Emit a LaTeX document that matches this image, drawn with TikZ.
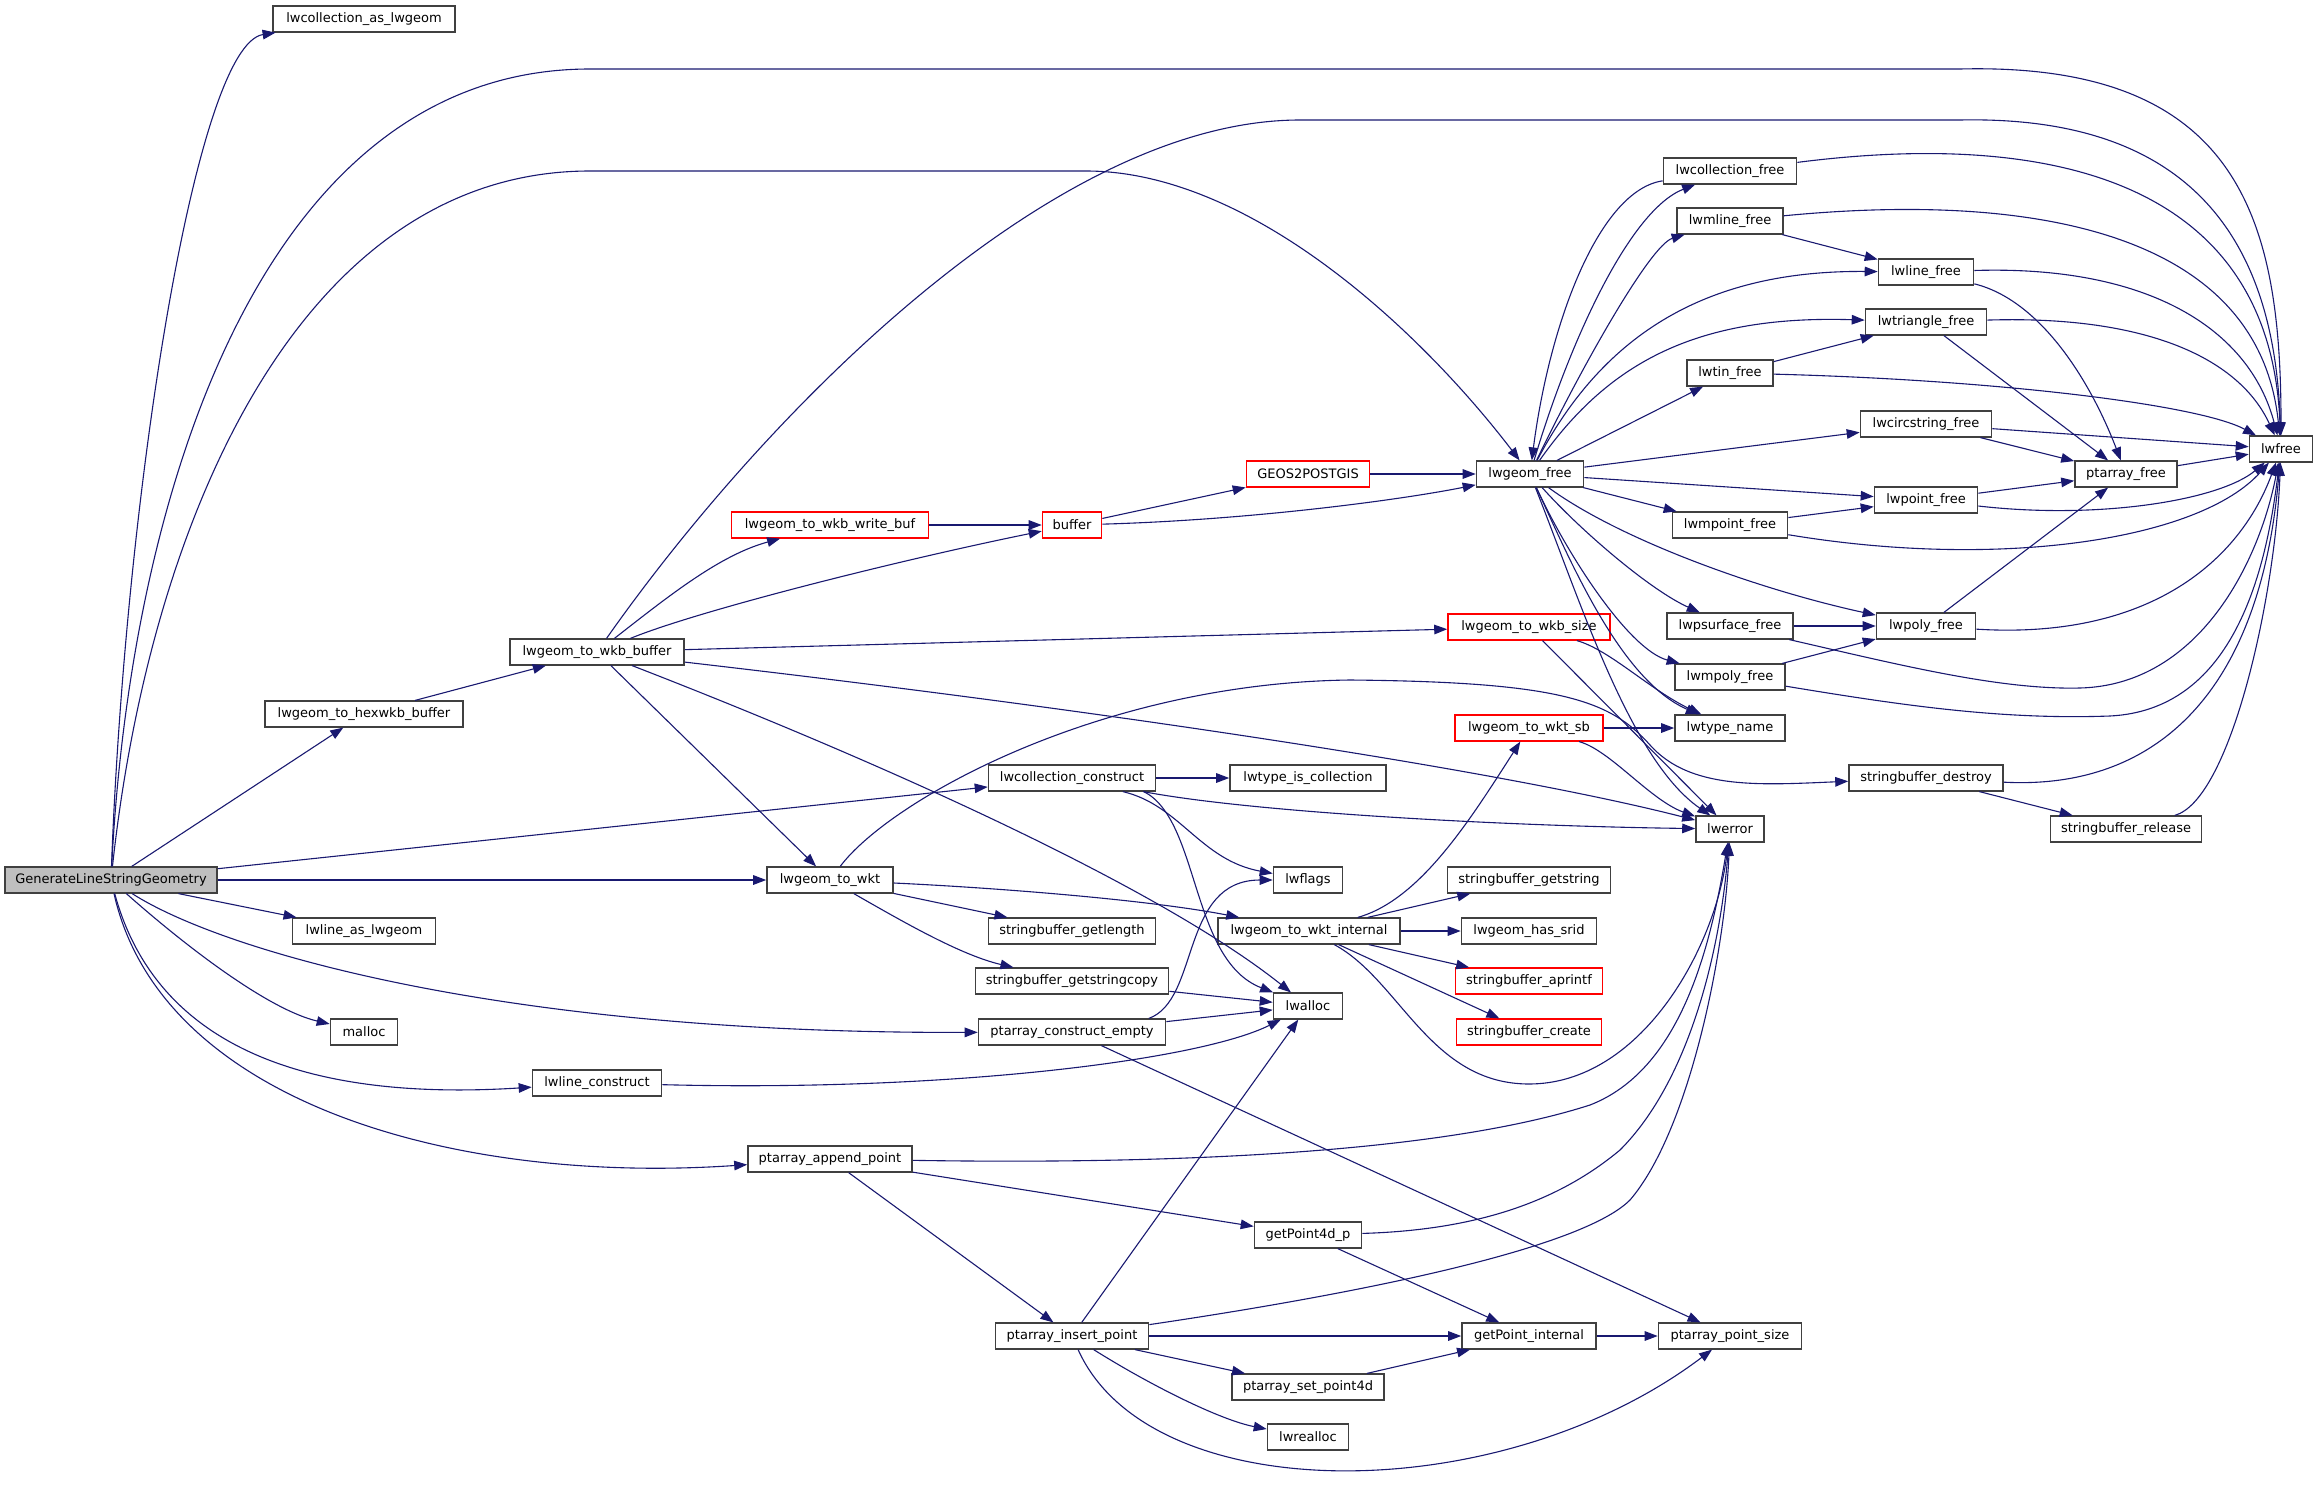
\documentclass[tikz,border=0pt]{standalone}
\usepackage{fontspec}
\setmainfont{DejaVu Sans}
\usetikzlibrary{arrows.meta}
\definecolor{edgeblue}{RGB}{25,25,112}
\definecolor{boxgray}{RGB}{64,64,64}
\definecolor{rootgray}{RGB}{191,191,191}
\tikzset{
  fn/.style={draw=boxgray, line width=0.8pt, fill=white, inner xsep=2pt, inner ysep=0pt,
    minimum height=12.8pt, font=\fontsize{6.5}{7}\selectfont, text=black},
  fnred/.style={fn, draw=red},
  call/.style={draw=edgeblue, line width=0.55pt, -{Triangle[length=6.5pt,width=4.8pt]}},
}

\begin{document}
\begin{tikzpicture}[x=0.5pt,y=-0.5pt]
      \useasboundingbox (0,0) rectangle (2319,1488);
      % functions
      \node[fn, fill=rootgray, minimum width=106pt] (gen) at (111,880) {GenerateLineStringGeometry};
      \node[fn, minimum width=91pt] (collasgeom) at (364,19) {lwcollection\_as\_lwgeom};
      \node[fn, minimum width=99pt] (hexwkb) at (364,714) {lwgeom\_to\_hexwkb\_buffer};
      \node[fn, minimum width=71.5pt] (lineasgeom) at (364,931) {lwline\_as\_lwgeom};
      \node[fn, minimum width=33.5pt] (malloc) at (364,1032) {malloc};
      \node[fn, minimum width=87pt] (wkbbuf) at (597,652) {lwgeom\_to\_wkb\_buffer};
      \node[fn, minimum width=64.5pt] (lineconstr) at (597,1083) {lwline\_construct};
      \node[fnred, minimum width=98.5pt] (writebuf) at (830,525) {lwgeom\_to\_wkb\_write\_buf};
      \node[fn, minimum width=63pt] (towkt) at (830,880) {lwgeom\_to\_wkt};
      \node[fn, minimum width=82pt] (appendpt) at (830,1159) {ptarray\_append\_point};
      \node[fnred, minimum width=29.5pt] (buffer) at (1072,525) {buffer};
      \node[fn, minimum width=83.5pt] (collconstr) at (1072,778) {lwcollection\_construct};
      \node[fn, minimum width=83.5pt] (getlength) at (1072,931) {stringbuffer\_getlength};
      \node[fn, minimum width=96.5pt] (getstringcopy) at (1072,981) {stringbuffer\_getstringcopy};
      \node[fn, minimum width=93.5pt] (constrempty) at (1072,1032) {ptarray\_construct\_empty};
      \node[fn, minimum width=76.5pt] (insertpt) at (1072,1336) {ptarray\_insert\_point};
      \node[fnred, minimum width=61.5pt] (geos) at (1308,474) {GEOS2POSTGIS};
      \node[fn, minimum width=78pt] (istypecoll) at (1308,778) {lwtype\_is\_collection};
      \node[fn, minimum width=34.5pt] (lwflags) at (1308,880) {lwflags};
      \node[fn, minimum width=91pt] (wktinternal) at (1309,931) {lwgeom\_to\_wkt\_internal};
      \node[fn, minimum width=34.5pt] (lwalloc) at (1308,1006) {lwalloc};
      \node[fn, minimum width=53.5pt] (getp4d) at (1308,1235) {getPoint4d\_p};
      \node[fn, minimum width=76pt] (setp4d) at (1308,1387) {ptarray\_set\_point4d};
      \node[fn, minimum width=40.5pt] (lwrealloc) at (1308,1437) {lwrealloc};
      \node[fn, minimum width=53.5pt] (geomfree) at (1530,474) {lwgeom\_free};
      \node[fnred, minimum width=81pt] (wkbsize) at (1529,627) {lwgeom\_to\_wkb\_size};
      \node[fnred, minimum width=74pt] (wktsb) at (1529,728) {lwgeom\_to\_wkt\_sb};
      \node[fn, minimum width=81.5pt] (getstring) at (1529,880) {stringbuffer\_getstring};
      \node[fn, minimum width=67.5pt] (hassrid) at (1529,931) {lwgeom\_has\_srid};
      \node[fnred, minimum width=73.5pt] (aprintf) at (1529,981) {stringbuffer\_aprintf};
      \node[fnred, minimum width=72.5pt] (sbcreate) at (1529,1032) {stringbuffer\_create};
      \node[fn, minimum width=67pt] (getptint) at (1529,1336) {getPoint\_internal};
      \node[fn, minimum width=66.5pt] (collfree) at (1730,171) {lwcollection\_free};
      \node[fn, minimum width=53pt] (mlinefree) at (1730,221) {lwmline\_free};
      \node[fn, minimum width=43pt] (tinfree) at (1730,373) {lwtin\_free};
      \node[fn, minimum width=57.5pt] (mpointfree) at (1730,525) {lwmpoint\_free};
      \node[fn, minimum width=63pt] (psurffree) at (1730,626) {lwpsurface\_free};
      \node[fn, minimum width=55pt] (mpolyfree) at (1730,677) {lwmpoly\_free};
      \node[fn, minimum width=55pt] (typename) at (1730,728) {lwtype\_name};
      \node[fn, minimum width=34pt] (lwerror) at (1730,829) {lwerror};
      \node[fn, minimum width=71.5pt] (ptsize) at (1730,1336) {ptarray\_point\_size};
      \node[fn, minimum width=47.5pt] (linefree) at (1926,272) {lwline\_free};
      \node[fn, minimum width=60.5pt] (trifree) at (1926,322) {lwtriangle\_free};
      \node[fn, minimum width=65.5pt] (circfree) at (1926,424) {lwcircstring\_free};
      \node[fn, minimum width=51.5pt] (pointfree) at (1926,500) {lwpoint\_free};
      \node[fn, minimum width=49.5pt] (polyfree) at (1926,626) {lwpoly\_free};
      \node[fn, minimum width=77pt] (sbdestroy) at (1926,778) {stringbuffer\_destroy};
      \node[fn, minimum width=51pt] (ptarrfree) at (2126,474) {ptarray\_free};
      \node[fn, minimum width=75.5pt] (sbrelease) at (2126,829) {stringbuffer\_release};
      \node[fn, minimum width=31.5pt] (lwfree) at (2281,449) {lwfree};

      % calls from the root
      \draw[call] (gen) .. controls (125,500) and (195,45) .. (collasgeom);
      \draw[call] (gen) .. controls (130,500) and (260,69) .. (590,69) -- (1960,69) .. controls (2240,62) and (2281,220) .. (lwfree);
      \draw[call] (gen) .. controls (150,520) and (300,171) .. (590,171) -- (1086,171) .. controls (1250,171) and (1420,330) .. (geomfree);
      \draw[call] (gen) -- (hexwkb);
      \draw[call] (gen) -- (collconstr);
      \draw[call] (gen) -- (towkt);
      \draw[call] (gen) -- (lineasgeom);
      \draw[call] (gen) .. controls (220,950) and (500,1034) .. (constrempty);
      \draw[call] (gen) .. controls (190,950) and (270,1010) .. (malloc);
      \draw[call] (gen) .. controls (160,1060) and (330,1100) .. (lineconstr);
      \draw[call] (gen) .. controls (160,1100) and (450,1185) .. (appendpt);

      % wkb side
      \draw[call] (hexwkb) -- (wkbbuf);
      \draw[call] (wkbbuf) .. controls (760,420) and (1050,120) .. (1300,120) -- (1960,120) .. controls (2200,115) and (2275,250) .. (lwfree);
      \draw[call] (wkbbuf) .. controls (670,595) and (720,555) .. (writebuf);
      \draw[call] (wkbbuf) .. controls (700,610) and (900,560) .. (buffer);
      \draw[call] (wkbbuf) -- (wkbsize);
      \draw[call] (wkbbuf) .. controls (1100,710) and (1500,770) .. (lwerror);
      \draw[call] (wkbbuf) .. controls (850,750) and (1150,880) .. (lwalloc);
      \draw[call] (wkbbuf) -- (towkt);
      \draw[call] (writebuf) -- (buffer);
      \draw[call] (buffer) -- (geos);
      \draw[call] (buffer) .. controls (1250,520) and (1400,500) .. (geomfree);
      \draw[call] (geos) -- (geomfree);
      \draw[call] (wkbsize) .. controls (1610,650) and (1650,690) .. (typename);
      \draw[call] (wkbsize) -- (lwerror);

      % wkt side
      \draw[call] (towkt) .. controls (1000,888) and (1150,900) .. (wktinternal);
      \draw[call] (towkt) -- (getlength);
      \draw[call] (towkt) .. controls (900,920) and (960,955) .. (getstringcopy);
      \draw[call] (towkt) .. controls (890,800) and (1100,683) .. (1350,680) .. controls (1560,682) and (1610,700) .. (1650,745) .. controls (1690,790) and (1760,785) .. (sbdestroy);
      \draw[call] (wktinternal) .. controls (1420,900) and (1470,820) .. (wktsb);
      \draw[call] (wktinternal) -- (getstring);
      \draw[call] (wktinternal) -- (hassrid);
      \draw[call] (wktinternal) -- (aprintf);
      \draw[call] (wktinternal) -- (sbcreate);
      \draw[call] (wktinternal) .. controls (1400,980) and (1430,1084) .. (1529,1084) .. controls (1640,1084) and (1715,950) .. (lwerror);
      \draw[call] (wktsb) -- (typename);
      \draw[call] (wktsb) .. controls (1610,750) and (1650,800) .. (lwerror);

      % collection and arrays
      \draw[call] (collconstr) -- (istypecoll);
      \draw[call] (collconstr) .. controls (1250,812) and (1500,826) .. (lwerror);
      \draw[call] ([xshift=-16.75pt]collconstr.south east) .. controls (1180,805) and (1200,860) .. (lwflags);
      \draw[call] ([xshift=-6.25pt]collconstr.south east) .. controls (1200,820) and (1190,960) .. (lwalloc);
      \draw[call] (getstringcopy) -- (lwalloc);
      \draw[call] (constrempty) -- (lwalloc);
      \draw[call] ([xshift=-8.75pt]constrempty.north east) .. controls (1200,1000) and (1180,880) .. (lwflags);
      \draw[call] (constrempty) -- (ptsize);
      \draw[call] (lineconstr) .. controls (950,1092) and (1200,1060) .. (lwalloc);
      \draw[call] (appendpt) .. controls (1200,1165) and (1450,1150) .. (1590,1105) .. controls (1680,1070) and (1710,950) .. (lwerror);
      \draw[call] (appendpt) -- (getp4d);
      \draw[call] (appendpt) -- (insertpt);
      \draw[call] (getp4d) .. controls (1480,1230) and (1560,1200) .. (1620,1150) .. controls (1690,1080) and (1720,950) .. (lwerror);
      \draw[call] (getp4d) -- (getptint);
      \draw[call] (insertpt) -- (lwalloc);
      \draw[call] (insertpt) .. controls (1350,1295) and (1580,1250) .. (1630,1200) .. controls (1690,1130) and (1725,950) .. (lwerror);
      \draw[call] (insertpt) -- (getptint);
      \draw[call] (insertpt) -- (setp4d);
      \draw[call] (insertpt) .. controls (1150,1385) and (1220,1420) .. (lwrealloc);
      \draw[call] (insertpt) .. controls (1150,1510) and (1500,1510) .. (ptsize);
      \draw[call] (setp4d) -- (getptint);
      \draw[call] (getptint) -- (ptsize);

      % lwgeom_free
      \draw[call] (geomfree) .. controls (1570,340) and (1630,210) .. (collfree);
      \draw[call] (collfree) .. controls (1600,190) and (1550,320) .. (geomfree);
      \draw[call] (geomfree) .. controls (1580,370) and (1650,245) .. (mlinefree);
      \draw[call] (geomfree) .. controls (1600,340) and (1700,270) .. (linefree);
      \draw[call] (geomfree) .. controls (1610,360) and (1700,315) .. (trifree);
      \draw[call] (geomfree) -- (tinfree);
      \draw[call] (geomfree) -- (circfree);
      \draw[call] (geomfree) -- (pointfree);
      \draw[call] (geomfree) -- (mpointfree);
      \draw[call] (geomfree) .. controls (1620,540) and (1760,590) .. (polyfree);
      \draw[call] (geomfree) .. controls (1580,530) and (1650,590) .. (psurffree);
      \draw[call] (geomfree) .. controls (1570,560) and (1630,650) .. (mpolyfree);
      \draw[call] (geomfree) .. controls (1570,560) and (1620,680) .. (typename);
      \draw[call] (geomfree) .. controls (1580,600) and (1630,760) .. (lwerror);

      % the free functions
      \draw[call] (collfree) .. controls (2050,130) and (2270,180) .. (lwfree);
      \draw[call] (mlinefree) .. controls (2050,190) and (2260,240) .. (lwfree);
      \draw[call] (mlinefree) -- (linefree);
      \draw[call] (linefree) .. controls (2150,265) and (2250,330) .. (lwfree);
      \draw[call] (linefree) .. controls (2040,300) and (2090,380) .. (ptarrfree);
      \draw[call] (trifree) .. controls (2150,315) and (2240,360) .. (lwfree);
      \draw[call] (trifree) -- (ptarrfree);
      \draw[call] (tinfree) -- (trifree);
      \draw[call] (tinfree) .. controls (2000,380) and (2200,405) .. (lwfree);
      \draw[call] (circfree) -- (lwfree);
      \draw[call] (circfree) -- (ptarrfree);
      \draw[call] (ptarrfree) -- (lwfree);
      \draw[call] (pointfree) -- (ptarrfree);
      \draw[call] (pointfree) .. controls (2100,520) and (2220,500) .. (lwfree);
      \draw[call] (mpointfree) -- (pointfree);
      \draw[call] (mpointfree) .. controls (2000,570) and (2200,540) .. (lwfree);
      \draw[call] (polyfree) -- (ptarrfree);
      \draw[call] (polyfree) .. controls (2150,640) and (2240,560) .. (lwfree);
      \draw[call] (psurffree) -- (polyfree);
      \draw[call] (psurffree) .. controls (1900,665) and (2000,690) .. (2080,688) .. controls (2200,685) and (2260,560) .. (lwfree);
      \draw[call] (mpolyfree) -- (polyfree);
      \draw[call] (mpolyfree) .. controls (1900,705) and (2000,720) .. (2110,716) .. controls (2230,710) and (2265,580) .. (lwfree);
      \draw[call] (sbdestroy) .. controls (2150,790) and (2260,700) .. (lwfree);
      \draw[call] (sbdestroy) -- (sbrelease);
      \draw[call] (sbrelease) .. controls (2230,800) and (2275,600) .. (lwfree);
\end{tikzpicture}
\end{document}
